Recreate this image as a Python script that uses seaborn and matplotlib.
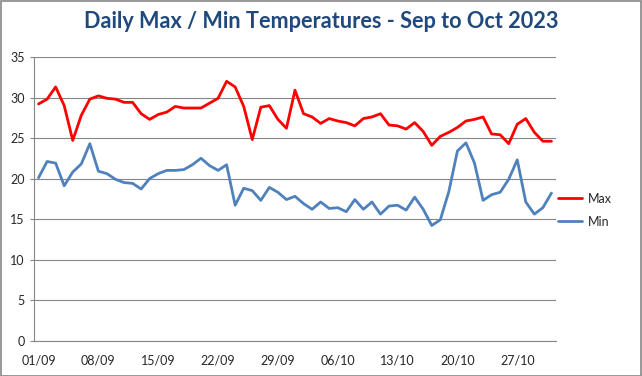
import numpy as np
import pandas as pd
import seaborn as sns
import matplotlib.pyplot as plt
from matplotlib.patches import Rectangle
from matplotlib.ticker import FixedLocator

# Daily values, 01/09/2023 to 31/10/2023
days = pd.date_range('2023-09-01', '2023-10-31', freq='D')
max_temp = [29.2, 29.8, 31.3, 29.0, 24.7, 27.8, 29.8, 30.2, 29.9, 29.8,
            29.4, 29.4, 28.0, 27.3, 27.9, 28.2, 28.9, 28.7, 28.7, 28.7,
            29.3, 29.9, 32.0, 31.3, 28.9, 24.8, 28.8, 29.0, 27.3, 26.2,
            30.9, 28.0, 27.6, 26.8, 27.4, 27.1, 26.9, 26.5, 27.4, 27.6,
            28.0, 26.6, 26.5, 26.1, 26.9, 25.8, 24.1, 25.2, 25.7, 26.3,
            27.1, 27.3, 27.6, 25.5, 25.4, 24.3, 26.7, 27.4, 25.7, 24.6,
            24.6]
min_temp = [20.1, 22.1, 21.9, 19.1, 20.8, 21.8, 24.3, 20.9, 20.6, 19.9,
            19.5, 19.4, 18.7, 20.0, 20.6, 21.0, 21.0, 21.1, 21.7, 22.5,
            21.6, 21.0, 21.7, 16.7, 18.8, 18.5, 17.3, 18.9, 18.3, 17.4,
            17.8, 16.9, 16.2, 17.1, 16.3, 16.4, 15.9, 17.4, 16.2, 17.1,
            15.6, 16.6, 16.7, 16.1, 17.7, 16.2, 14.2, 14.9, 18.4, 23.4,
            24.4, 21.9, 17.3, 18.0, 18.3, 19.9, 22.3, 17.1, 15.6, 16.4,
            18.2]
series_colors = {'Max': '#FF0000', 'Min': '#4F81BD'}

df = pd.DataFrame({'pos': np.arange(len(days)), 'Max': max_temp, 'Min': min_temp})
long_df = df.melt(id_vars='pos', var_name='series', value_name='temp')

sns.set_style('white')
plt.rcParams['font.family'] = ['Lato', 'DejaVu Sans']

fig = plt.figure(figsize=(6.42, 3.76), dpi=100)
ax = fig.add_axes([0.0534, 0.0944, 0.8122, 0.754])

sns.lineplot(data=long_df, x='pos', y='temp', hue='series', palette=series_colors,
             linewidth=2.0, ax=ax, legend=False)

grey = '#868686'
ax.set_ylim(0, 35)
ax.set_yticks(np.arange(0, 36, 5))
ax.set_xlim(-0.5, len(days) - 0.5)
ax.set_xticks(np.arange(0, len(days), 7))
ax.set_xticklabels(days[::7].strftime('%d/%m'))
ax.xaxis.set_minor_locator(FixedLocator(np.arange(0, len(days), 7) - 0.5))
ax.tick_params(axis='x', which='major', length=0, pad=10, labelsize=9)
ax.tick_params(axis='x', which='minor', length=4, width=0.8, color=grey, direction='out')
ax.tick_params(axis='y', length=3, width=0.8, color=grey, direction='out', pad=4, labelsize=9, left=True)
ax.grid(axis='y', color=grey, linewidth=0.8)
ax.set_axisbelow(True)
ax.set_xlabel('')
ax.set_ylabel('')
for side in ['top', 'right']:
    ax.spines[side].set_visible(False)
for side in ['left', 'bottom']:
    ax.spines[side].set_color(grey)
    ax.spines[side].set_linewidth(0.8)

handles = [plt.Line2D([], [], color=series_colors[s], linewidth=2.0) for s in ['Max', 'Min']]
fig.legend(handles, ['Max', 'Min'], loc='center left', bbox_to_anchor=(0.852, 0.441),
           frameon=False, fontsize=9, handlelength=1.9, handletextpad=0.5, labelspacing=0.9)

fig.text(0.5, 1 - 22 / 376, 'Daily Max / Min Temperatures - Sep to Oct 2023',
         ha='center', va='center', fontsize=15.6, fontweight='bold', color='#1F497D')

fig.patches.append(Rectangle((0.001, 0.001), 0.997, 0.996, transform=fig.transFigure,
                             fill=False, edgecolor=grey, linewidth=1.2))

fig.savefig('out.png', dpi=100)
